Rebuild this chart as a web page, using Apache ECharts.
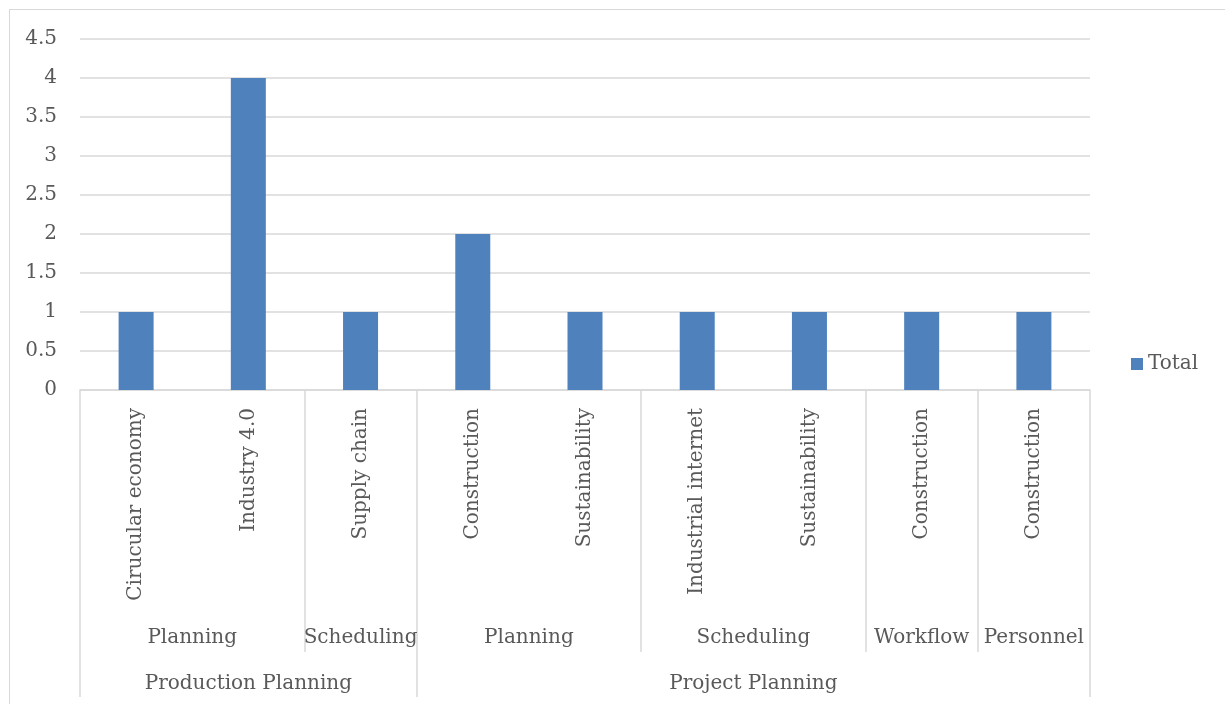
<!DOCTYPE html>
<html>
<head>
<meta charset="utf-8">
<script src="https://cdn.jsdelivr.net/npm/echarts@6/dist/echarts.min.js"></script>
<style>
html,body{margin:0;padding:0;background:#fff;overflow:hidden;}
#frame{position:absolute;left:9px;top:9px;width:1260px;height:740px;border:1.5px solid #d9d9d9;box-sizing:border-box;}
#chart{position:absolute;left:0;top:0;width:1225px;height:704px;}
</style>
</head>
<body>
<div id="frame"></div>
<div id="chart"></div>
<script>
// Level 1 categories (one per bar)
const categories = ["Cirucular economy","Industry 4.0","Supply chain","Construction","Sustainability","Industrial internet","Sustainability","Construction","Construction"];
// Series values
const totals = [1,4,1,2,1,1,1,1,1];
// Level 2 groups and how many categories each spans
const level2Names = ["Planning","Scheduling","Planning","Scheduling","Workflow","Personnel"];
const level2Spans = [2,1,2,2,1,1];
// Level 3 groups and spans
const level3Names = ["Production Planning","Project Planning"];
const level3Spans = [3,6];
// Y axis ticks
const yMin = 0, yMax = 4.5, yStep = 0.5;

function groupInfo(names, spans){
  const bounds=[0], centers=[], map={};
  let acc=0;
  spans.forEach((s,i)=>{ const c=acc+s/2; centers.push(c); map[c]=names[i]; acc+=s; bounds.push(acc); });
  return {bounds, centers, map};
}
const g2 = groupInfo(level2Names, level2Spans);
const g3 = groupInfo(level3Names, level3Spans);
const N = categories.length;

const FONT = "DejaVu Serif";
const TXT = "#595959";
const GRID = "#d9d9d9";

const chart = echarts.init(document.getElementById('chart'), null, {renderer:'canvas'});
chart.setOption({
  animation:false,
  backgroundColor:'transparent',
  grid:{left:80, right:135, top:39, bottom:314},
  legend:{
    data:['Total'], left:1126, top:349, itemWidth:12, itemHeight:12,
    icon:'rect',
    textStyle:{fontFamily:FONT, fontSize:20, color:TXT}
  },
  xAxis:[
    {
      type:'category', data:categories, position:'bottom',
      axisLine:{show:true, lineStyle:{color:GRID, width:1.5}},
      axisTick:{show:false},
      axisLabel:{interval:0, rotate:90, margin:18, fontFamily:FONT, fontSize:20, color:TXT}
    },
    {
      type:'value', min:0, max:N, position:'bottom', gridIndex:0,
      axisLine:{show:false}, splitLine:{show:false},
      axisTick:{show:true, customValues:g2.bounds, length:262, lineStyle:{color:GRID, width:1.5}},
      axisLabel:{customValues:g2.centers, margin:238, fontFamily:FONT, fontSize:20, color:TXT,
        formatter:v=>g2.map[v]||''}
    },
    {
      type:'value', min:0, max:N, position:'bottom', gridIndex:0,
      axisLine:{show:false}, splitLine:{show:false},
      axisTick:{show:true, customValues:g3.bounds, length:307, lineStyle:{color:GRID, width:1.5}},
      axisLabel:{customValues:g3.centers, margin:284, fontFamily:FONT, fontSize:20, color:TXT,
        formatter:v=>g3.map[v]||''}
    }
  ],
  yAxis:{
    type:'value', min:yMin, max:yMax, interval:yStep,
    axisLine:{show:false}, axisTick:{show:false},
    splitLine:{lineStyle:{color:GRID, width:1.5}},
    axisLabel:{margin:23, fontFamily:FONT, fontSize:20, color:TXT}
  },
  series:[{
    name:'Total', type:'bar', xAxisIndex:0, data:totals, barWidth:35,
    itemStyle:{color:'#4f81bd'}
  }]
});
</script>
</body>
</html>
